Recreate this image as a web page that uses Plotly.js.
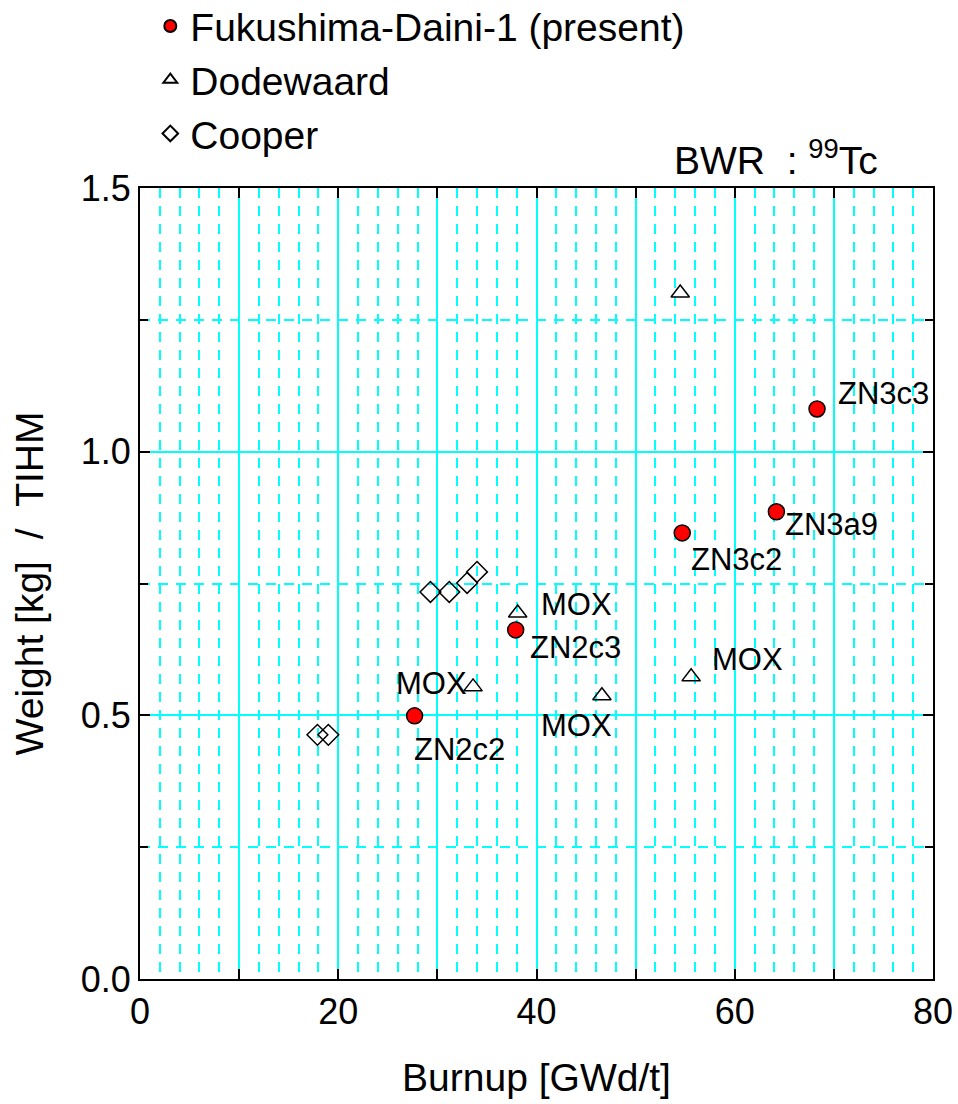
<!DOCTYPE html>
<html>
<head>
<meta charset="utf-8">
<script src="https://cdn.plot.ly/plotly-3.0.1.min.js"></script>
<style>html,body{margin:0;padding:0;background:#fff;}#chart{width:958px;height:1104px;}</style>
</head>
<body>
<div id="chart"></div>
<script>
// Fukushima-Daini-1 (present)
const fdBurnup = [27.7, 37.9, 54.7, 64.2, 68.3];
const fdWeight = [0.499, 0.662, 0.846, 0.886, 1.081];
const fdLabels = ['ZN2c2', 'ZN2c3', 'ZN3c2', 'ZN3a9', 'ZN3c3'];

// Dodewaard
const dwBurnup = [54.5, 38.1, 33.6, 46.6, 55.6];
const dwWeight = [1.301, 0.694, 0.554, 0.537, 0.573];
const dwLabels = ['', 'MOX', 'MOX', 'MOX', 'MOX'];

// Cooper
const cpBurnup = [17.9, 19.0, 29.3, 31.2, 33.0, 34.0];
const cpWeight = [0.463, 0.463, 0.734, 0.734, 0.751, 0.772];

const xTickVals = [0, 10, 20, 30, 40, 50, 60, 70, 80];
const xTickText = ['0', ' ', '20', ' ', '40', ' ', '60', ' ', '80'];
const yTickVals = [0, 0.5, 1.0, 1.5];
const yTickText = ['0.0', '0.5', '1.0', '1.5'];
const yMinorVals = [0.25, 0.75, 1.25];

// fine dashed grid positions (every 2 GWd/t, skipping the solid lines)
const xMinorVals = [];
for (let v = 2; v < 80; v += 2) { if (v % 10 !== 0) xMinorVals.push(v); }

// label offsets in pixels (dx right, dy up)
const fdOffsets = [[45, -34], [60, -18], [54, -27], [55, -13], [66, 15]];
const dwOffsets = [[0, 0], [59, 9], [-42, 3], [-25, -30], [56, 17]];

const FONT = 'Liberation Sans, Arial, sans-serif';
const CYAN = '#00ffff';

const traces = [
  // empty trace that carries the fine dashed grid axes
  {x: [], y: [], xaxis: 'x2', yaxis: 'y2', type: 'scatter', mode: 'markers', showlegend: false, hoverinfo: 'skip'},
  {
    x: fdBurnup, y: fdWeight, name: 'Fukushima-Daini-1 (present)',
    mode: 'markers', type: 'scatter',
    marker: {symbol: 'circle', size: 16, color: '#ff0000', line: {color: '#000', width: 1.5}}
  },
  {
    x: dwBurnup, y: dwWeight, name: 'Dodewaard',
    mode: 'markers', type: 'scatter',
    marker: {symbol: 'triangle-up-open', size: 16, color: '#000', line: {color: '#000', width: 1.5}}
  },
  {
    x: cpBurnup, y: cpWeight, name: 'Cooper',
    mode: 'markers', type: 'scatter',
    marker: {symbol: 'diamond-open', size: 16, color: '#000', line: {color: '#000', width: 1.5}}
  }
];

const annotations = [];
fdLabels.forEach((t, i) => {
  if (!t) return;
  annotations.push({x: fdBurnup[i], y: fdWeight[i], xref: 'x', yref: 'y', text: t, showarrow: false,
    xshift: fdOffsets[i][0], yshift: fdOffsets[i][1], font: {family: FONT, size: 31, color: '#000'}});
});
dwLabels.forEach((t, i) => {
  if (!t) return;
  annotations.push({x: dwBurnup[i], y: dwWeight[i], xref: 'x', yref: 'y', text: t, showarrow: false,
    xshift: dwOffsets[i][0], yshift: dwOffsets[i][1], font: {family: FONT, size: 31, color: '#000'}});
});
annotations.push({x: 0.933, y: 1.0, xref: 'paper', yref: 'paper', xanchor: 'right', yanchor: 'bottom',
  yshift: 4, text: 'BWR&nbsp;&nbsp;:&nbsp;<sup>99</sup>Tc', showarrow: false,
  font: {family: FONT, size: 39, color: '#000'}});

const layout = {
  width: 958, height: 1104,
  margin: {l: 140, r: 25, t: 188, b: 125, autoexpand: false},
  paper_bgcolor: '#fff', plot_bgcolor: '#fff',
  font: {family: FONT, color: '#000'},
  showlegend: true,
  legend: {x: 0.013, y: 1.245, xanchor: 'left', yanchor: 'top', bgcolor: 'rgba(0,0,0,0)',
    font: {family: FONT, size: 39, color: '#000'}, itemsizing: 'constant', tracegroupgap: 0},
  xaxis: {
    range: [0, 80], tickmode: 'array', tickvals: xTickVals, ticktext: xTickText,
    ticks: 'inside', ticklen: 10, tickwidth: 2, tickcolor: '#000',
    showline: true, linecolor: '#000', linewidth: 2, mirror: 'ticks',
    showgrid: true, gridcolor: CYAN, gridwidth: 2, zeroline: false,
    tickfont: {family: FONT, size: 36, color: '#000'},
    title: {text: 'Burnup [GWd/t]', font: {family: FONT, size: 39, color: '#000'}, standoff: 32}
  },
  xaxis2: {
    overlaying: 'x', anchor: 'y2', range: [0, 80], tickmode: 'array', tickvals: xMinorVals,
    showgrid: true, gridcolor: CYAN, gridwidth: 2, griddash: '10px,8px',
    showticklabels: false, ticks: '', showline: false, zeroline: false
  },
  yaxis: {
    range: [0, 1.5], tickmode: 'array', tickvals: yTickVals, ticktext: yTickText,
    ticks: 'inside', ticklen: 10, tickwidth: 2, tickcolor: '#000',
    showline: true, linecolor: '#000', linewidth: 2, mirror: 'ticks',
    showgrid: true, gridcolor: CYAN, gridwidth: 2, zeroline: false,
    tickfont: {family: FONT, size: 36, color: '#000'},
    title: {text: 'Weight [kg]&nbsp;&nbsp;/&nbsp;&nbsp;TIHM', font: {family: FONT, size: 39, color: '#000'}, standoff: 25}
  },
  yaxis2: {
    overlaying: 'y', anchor: 'x2', side: 'left', range: [0, 1.5], tickmode: 'array', tickvals: yMinorVals,
    showgrid: true, gridcolor: CYAN, gridwidth: 2, griddash: '10px,8px',
    showticklabels: false, ticks: 'inside', ticklen: 8, tickwidth: 2, tickcolor: '#000',
    showline: true, linecolor: '#000', linewidth: 2, mirror: 'ticks', zeroline: false
  },
  annotations: annotations
};

Plotly.newPlot('chart', traces, layout, {displayModeBar: false, staticPlot: true});
</script>
</body>
</html>
